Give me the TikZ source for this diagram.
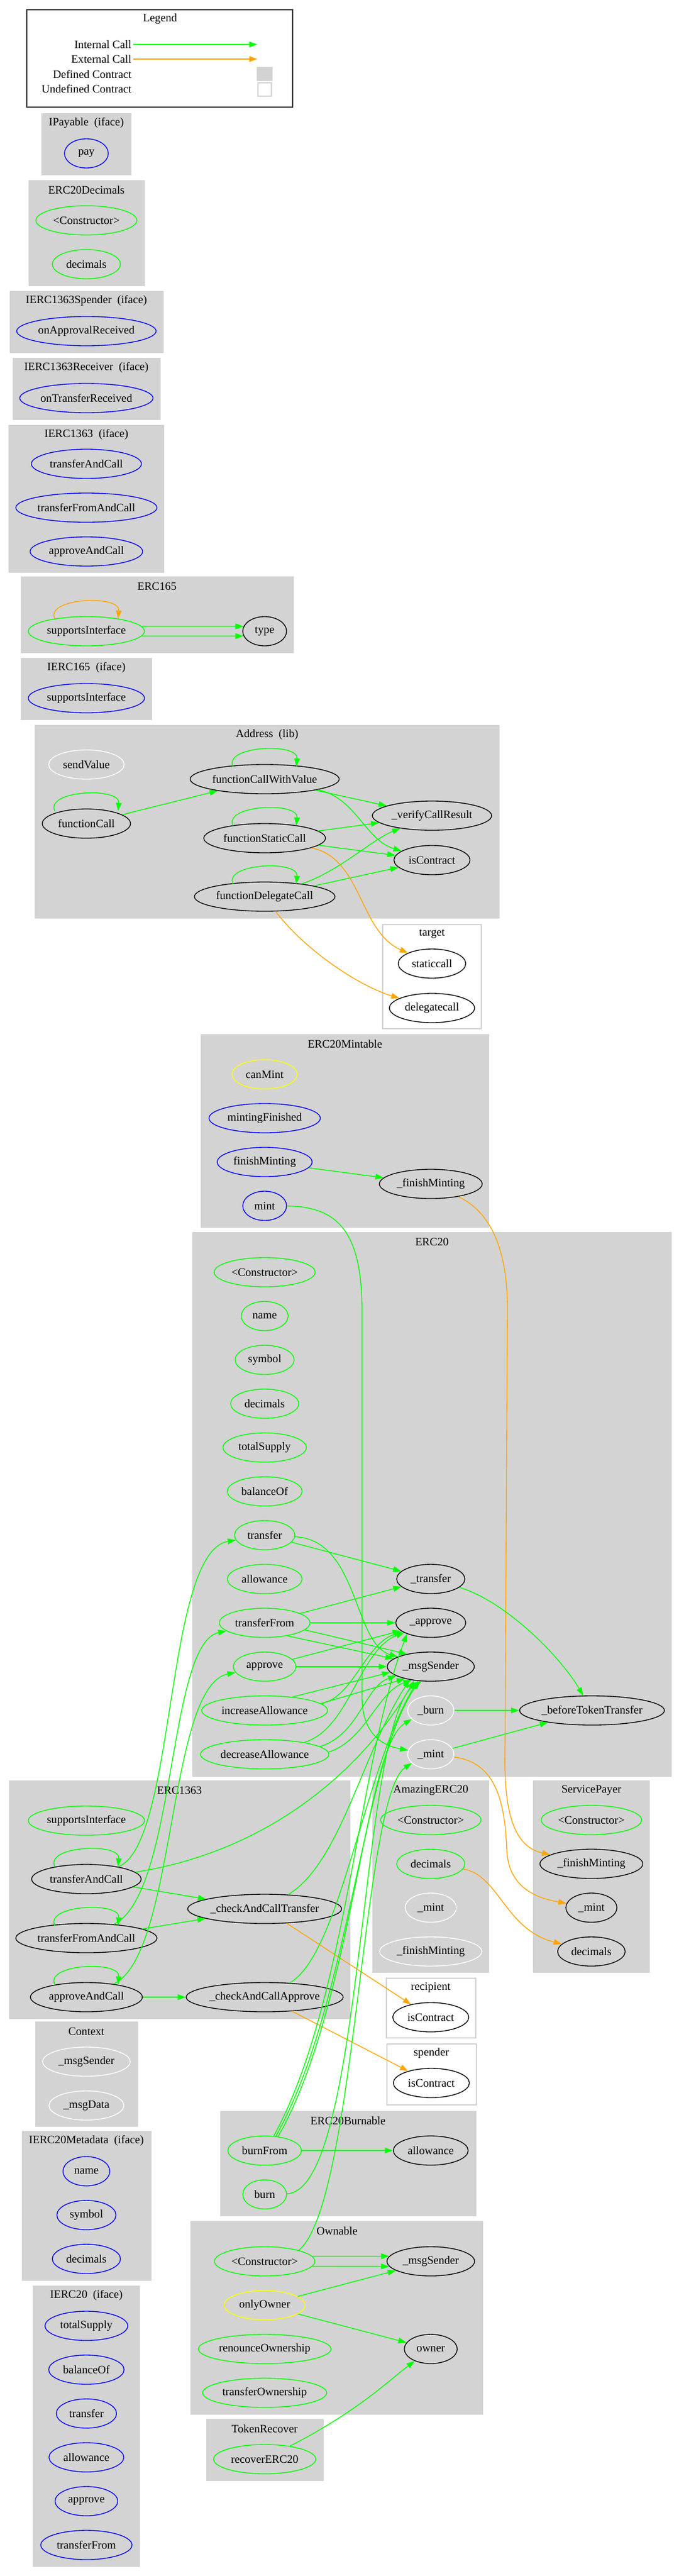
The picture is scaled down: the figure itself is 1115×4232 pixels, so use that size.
\documentclass[tikz,border=0pt]{standalone}
\usepackage{fontspec}
\setmainfont{Liberation Serif}
\usetikzlibrary{shapes.geometric, arrows.meta, calc}

\definecolor{fngreen}{HTML}{00FF00}
\definecolor{fnblue}{HTML}{0000FF}
\definecolor{fnyellow}{HTML}{FFFF00}
\definecolor{extorange}{HTML}{FFA500}
\definecolor{clustergray}{HTML}{D3D3D3}

% loop arrow over the top of a node
\newcommand{\selfcall}[2][call]{%
  \draw[#1] ($(#2.north)+(-52,4)$) .. controls ($(#2.north)+(-68,-30)$) and ($(#2.north)+(56,-36)$) .. ($(#2.north)+(52,4)$);}

\begin{document}
\begin{tikzpicture}[x=0.75pt, y=-0.75pt,
    font=\fontsize{14}{16.8}\selectfont,
    fn/.style={ellipse, draw=#1, line width=1pt, inner xsep=0pt, inner ysep=0pt,
      minimum height=36pt, minimum width=54pt},
    w/.style={minimum width=#1*0.75pt},
    cluster/.style={fill=clustergray, draw=clustergray, line width=1pt},
    outside/.style={fill=white, draw=clustergray, line width=1pt},
    call/.style={draw=fngreen, line width=1pt, -{Triangle[length=10pt,width=7pt]}},
    extcall/.style={draw=extorange, line width=1pt, -{Triangle[length=10pt,width=7pt]}}]

  \path[use as bounding box, fill=white] (0,0) rectangle (1115,4232);

  % Legend
  \draw[line width=1pt, draw=black!80] (44,16) rectangle (481,176);
  \node (legendTitle) at (263,31) {Legend};
  \node (lgInternal) [anchor=east, inner xsep=2pt] at (219,73) {Internal Call};
  \node (lgExternal) [anchor=east, inner xsep=2pt] at (219,97) {External Call};
  \node (lgDefined) [anchor=east, inner xsep=2pt] at (219,122) {Defined Contract};
  \node (lgUndefined) [anchor=east, inner xsep=2pt] at (219,146) {Undefined Contract};
  \coordinate (lgInternalEnd) at (423,73);
  \coordinate (lgExternalEnd) at (423,97);
  \node (lgGray) [fill=clustergray, inner sep=0pt, minimum width=26*0.75pt, minimum height=23*0.75pt] at (435,121.5) {};
  \node (lgWhite) [draw=clustergray, line width=1pt, inner sep=0pt, minimum width=22*0.75pt, minimum height=22*0.75pt] at (435,147) {};

  % IPayable
  \draw[cluster] (69,187) rectangle (215,287);
  \node (ipayTitle) at (142,202) {IPayable~~(iface)};
  \node (ipayPay) [fn=fnblue, w=72] at (142,252) {pay};

  % ERC20Decimals
  \draw[cluster] (48,297) rectangle (237,469);
  \node (decTitle) at (142,312) {ERC20Decimals};
  \node (decCtor) [fn=fngreen, w=166] at (142,362) {<Constructor>};
  \node (decDecimals) [fn=fngreen, w=112] at (142,434) {decimals};

  % IERC1363Spender
  \draw[cluster] (17,479) rectangle (268,579);
  \node (ispTitle) at (142,494) {IERC1363Spender~~(iface)};
  \node (ispApproval) [fn=fnblue, w=229] at (142,544) {onApprovalReceived};

  % IERC1363Receiver
  \draw[cluster] (22,589) rectangle (263,689);
  \node (ircTitle) at (142,604) {IERC1363Receiver~~(iface)};
  \node (ircTransfer) [fn=fnblue, w=219] at (142,654) {onTransferReceived};

  % IERC1363
  \draw[cluster] (15,699) rectangle (269,940);
  \node (i1363Title) at (142,714) {IERC1363~~(iface)};
  \node (i1363Transfer) [fn=fnblue, w=181] at (142,762) {transferAndCall};
  \node (i1363TransferFrom) [fn=fnblue, w=232] at (142,834) {transferFromAndCall};
  \node (i1363Approve) [fn=fnblue, w=185] at (142,906) {approveAndCall};

  % ERC165
  \draw[cluster] (35,948) rectangle (482,1072);
  \node (e165Title) at (258,963) {ERC165};
  \node (e165Supports) [fn=fngreen, w=191] at (142,1037) {supportsInterface};
  \node (e165Type) [fn=black, w=72] at (435,1037) {type};

  % IERC165
  \draw[cluster] (35,1082) rectangle (249,1182);
  \node (i165Title) at (142,1097) {IERC165~~(iface)};
  \node (i165Supports) [fn=fnblue, w=191] at (142,1147) {supportsInterface};

  % Address
  \draw[cluster] (58,1192) rectangle (820,1508);
  \node (addrTitle) at (439,1207) {Address~~(lib)};
  \node (addrSendValue) [fn=white, w=124] at (142,1256) {sendValue};
  \node (addrCall) [fn=black, w=145] at (142,1353) {functionCall};
  \node (addrCallValue) [fn=black, w=245] at (435,1280) {functionCallWithValue};
  \node (addrStatic) [fn=black, w=200] at (435,1377) {functionStaticCall};
  \node (addrDelegate) [fn=black, w=231] at (435,1473) {functionDelegateCall};
  \node (addrVerify) [fn=black, w=196] at (710,1340) {\_verifyCallResult};
  \node (addrIsContract) [fn=black, w=125] at (710,1413) {isContract};

  % target
  \draw[outside] (629,1519) rectangle (791,1690);
  \node (targetTitle) at (710,1534) {target};
  \node (targetStatic) [fn=black, w=111] at (710,1583) {staticcall};
  \node (targetDelegate) [fn=black, w=140] at (710,1656) {delegatecall};

  % ERC20Mintable
  \draw[cluster] (331,1700) rectangle (803,2016);
  \node (mintTitle) at (567,1715) {ERC20Mintable};
  \node (mintCanMint) [fn=fnyellow, w=107] at (435,1765) {canMint};
  \node (mintFinished) [fn=fnblue, w=183] at (435,1837) {mintingFinished};
  \node (mintFinish) [fn=fnblue, w=156] at (435,1909) {finishMinting};
  \node (mintMint) [fn=fnblue, w=72] at (435,1981) {mint};
  \node (mintFinishInt) [fn=black, w=169] at (708,1945) {\_finishMinting};

  % ERC20
  \draw[cluster] (317,2025) rectangle (1103,2918);
  \node (ercTitle) at (710,2040) {ERC20};
  \node (ercCtor) [fn=fngreen, w=166] at (435,2090) {<Constructor>};
  \node (ercName) [fn=fngreen, w=77] at (435,2162) {name};
  \node (ercSymbol) [fn=fngreen, w=97] at (435,2234) {symbol};
  \node (ercDecimals) [fn=fngreen, w=112] at (435,2306) {decimals};
  \node (ercTotalSupply) [fn=fngreen, w=137] at (435,2378) {totalSupply};
  \node (ercBalanceOf) [fn=fngreen, w=123] at (435,2450) {balanceOf};
  \node (ercTransfer) [fn=fngreen, w=99] at (435,2522) {transfer};
  \node (ercAllowance) [fn=fngreen, w=123] at (435,2594) {allowance};
  \node (ercTransferFrom) [fn=fngreen, w=149] at (435,2666) {transferFrom};
  \node (ercApprove) [fn=fngreen, w=103] at (435,2738) {approve};
  \node (ercIncrease) [fn=fngreen, w=207] at (435,2810) {increaseAllowance};
  \node (ercDecrease) [fn=fngreen, w=211] at (435,2882) {decreaseAllowance};
  \node (ercTransferInt) [fn=black, w=112] at (708,2594) {\_transfer};
  \node (ercApproveInt) [fn=black, w=115] at (708,2666) {\_approve};
  \node (ercMsgSender) [fn=black, w=143] at (708,2738) {\_msgSender};
  \node (ercBurn) [fn=white, w=76] at (708,2810) {\_burn};
  \node (ercMint) [fn=white, w=76] at (708,2882) {\_mint};
  \node (ercBefore) [fn=black, w=238] at (973,2810) {\_beforeTokenTransfer};

  % ERC1363
  \draw[cluster] (16,2926) rectangle (575,3316);
  \node (e1363Title) at (295,2941) {ERC1363};
  \node (e1363Supports) [fn=fngreen, w=191] at (142,2991) {supportsInterface};
  \node (e1363Transfer) [fn=black, w=180] at (142,3087) {transferAndCall};
  \node (e1363TransferFrom) [fn=black, w=232] at (142,3184) {transferFromAndCall};
  \node (e1363Approve) [fn=black, w=184] at (142,3281) {approveAndCall};
  \node (e1363CheckTransfer) [fn=black, w=253] at (435,3136) {\_checkAndCallTransfer};
  \node (e1363CheckApprove) [fn=black, w=258] at (435,3281) {\_checkAndCallApprove};

  % AmazingERC20
  \draw[cluster] (613,2926) rectangle (803,3240);
  \node (amzTitle) at (708,2941) {AmazingERC20};
  \node (amzCtor) [fn=fngreen, w=165] at (708,2990) {<Constructor>};
  \node (amzDecimals) [fn=fngreen, w=112] at (708,3062) {decimals};
  \node (amzMint) [fn=white, w=84] at (708,3134) {\_mint};
  \node (amzFinish) [fn=white, w=168] at (708,3206) {\_finishMinting};

  % ServicePayer
  \draw[cluster] (877,2926) rectangle (1067,3240);
  \node (spTitle) at (972,2941) {ServicePayer};
  \node (spCtor) [fn=fngreen, w=165] at (972,2990) {<Constructor>};
  \node (spFinish) [fn=black, w=169] at (972,3062) {\_finishMinting};
  \node (spMint) [fn=black, w=84] at (972,3134) {\_mint};
  \node (spDecimals) [fn=black, w=111] at (972,3206) {decimals};

  % recipient
  \draw[outside] (635,3250) rectangle (782,3348);
  \node (recTitle) at (708,3265) {recipient};
  \node (recIsContract) [fn=black, w=125] at (708,3314) {isContract};

  % spender
  \draw[outside] (636,3358) rectangle (783,3458);
  \node (spdTitle) at (709,3373) {spender};
  \node (spdIsContract) [fn=black, w=125] at (709,3422) {isContract};

  % Context
  \draw[cluster] (59,3322) rectangle (226,3493);
  \node (ctxTitle) at (142,3337) {Context};
  \node (ctxMsgSender) [fn=white, w=144] at (142,3387) {\_msgSender};
  \node (ctxMsgData) [fn=white, w=123] at (142,3459) {\_msgData};

  % ERC20Burnable
  \draw[cluster] (363,3469) rectangle (782,3640);
  \node (burnTitle) at (572,3484) {ERC20Burnable};
  \node (burnBurnFrom) [fn=fngreen, w=121] at (435,3533) {burnFrom};
  \node (burnAllowance) [fn=black, w=123] at (708,3533) {allowance};
  \node (burnBurn) [fn=fngreen, w=72] at (435,3605) {burn};

  % IERC20Metadata
  \draw[cluster] (37,3502) rectangle (248,3746);
  \node (metaTitle) at (142,3517) {IERC20Metadata~~(iface)};
  \node (metaName) [fn=fnblue, w=77] at (142,3567) {name};
  \node (metaSymbol) [fn=fnblue, w=97] at (142,3639) {symbol};
  \node (metaDecimals) [fn=fnblue, w=112] at (142,3711) {decimals};

  % Ownable
  \draw[cluster] (314,3650) rectangle (793,3966);
  \node (ownTitle) at (554,3665) {Ownable};
  \node (ownCtor) [fn=fngreen, w=165] at (435,3715) {<Constructor>};
  \node (ownOnlyOwner) [fn=fnyellow, w=133] at (435,3787) {onlyOwner};
  \node (ownRenounce) [fn=fngreen, w=218] at (435,3859) {renounceOwnership};
  \node (ownTransfer) [fn=fngreen, w=204] at (435,3931) {transferOwnership};
  \node (ownMsgSender) [fn=black, w=144] at (708,3715) {\_msgSender};
  \node (ownOwner) [fn=black, w=87] at (708,3859) {owner};

  % IERC20
  \draw[cluster] (55,3756) rectangle (229,4216);
  \node (ierc20Title) at (142,3771) {IERC20~~(iface)};
  \node (ierc20TotalSupply) [fn=fnblue, w=136] at (142,3821) {totalSupply};
  \node (ierc20BalanceOf) [fn=fnblue, w=124] at (142,3893) {balanceOf};
  \node (ierc20Transfer) [fn=fnblue, w=99] at (142,3965) {transfer};
  \node (ierc20Allowance) [fn=fnblue, w=123] at (142,4037) {allowance};
  \node (ierc20Approve) [fn=fnblue, w=103] at (142,4109) {approve};
  \node (ierc20TransferFrom) [fn=fnblue, w=150] at (142,4181) {transferFrom};

  % TokenRecover
  \draw[cluster] (340,3975) rectangle (531,4075);
  \node (trTitle) at (435,3990) {TokenRecover};
  \node (trRecover) [fn=fngreen, w=168] at (435,4040) {recoverERC20};

  % Arrows
  \draw[call] (lgInternal.east) -- (lgInternalEnd);
  \draw[extcall] (lgExternal.east) -- (lgExternalEnd);

  \selfcall[extcall]{e165Supports}
  \draw[call] (e165Supports.5) -- (e165Type.167);
  \draw[call] (e165Supports.-5) -- (e165Type.193);

  \selfcall{addrCall}
  \selfcall{addrCallValue}
  \selfcall{addrStatic}
  \selfcall{addrDelegate}
  \draw[call] (addrCall) -- (addrCallValue);
  \draw[call] (addrCallValue) -- (addrVerify);
  \draw[call] (addrCallValue) .. controls (585,1310) and (600,1380) .. (addrIsContract);
  \draw[call] (addrStatic) -- (addrVerify);
  \draw[call] (addrStatic) -- (addrIsContract);
  \draw[call] (addrDelegate) .. controls (560,1430) and (610,1380) .. (addrVerify);
  \draw[call] (addrDelegate) -- (addrIsContract);
  \draw[extcall] (addrStatic) .. controls (595,1410) and (590,1530) .. (targetStatic);
  \draw[extcall] (addrDelegate) .. controls (500,1560) and (590,1620) .. (targetDelegate);

  \draw[call] (mintFinish) -- (mintFinishInt);
  \draw[call] (mintMint) .. controls (560,1982) and (594,2030) .. (595,2150) -- (595,2790) .. controls (596,2850) and (630,2868) .. (ercMint);
  \draw[extcall] (mintFinishInt) .. controls (805,1990) and (834,2050) .. (834,2150) -- (830,2880) .. controls (828,2990) and (850,3035) .. (spFinish);

  \draw[call] (ercTransfer) -- (ercTransferInt);
  \draw[call] (ercTransfer) .. controls (590,2530) and (580,2700) .. (ercMsgSender);
  \draw[call] (ercTransferFrom) -- (ercTransferInt);
  \draw[call] (ercTransferFrom) -- (ercApproveInt);
  \draw[call] (ercTransferFrom.-10) -- (ercMsgSender.152);
  \draw[call] (ercTransferFrom.-30) -- (ercMsgSender.168);
  \draw[call] (ercApprove) -- (ercApproveInt);
  \draw[call] (ercApprove) -- (ercMsgSender);
  \draw[call] (ercIncrease.7) .. controls (580,2790) and (600,2700) .. (ercApproveInt);
  \draw[call] (ercIncrease.26) -- (ercMsgSender.188);
  \draw[call] (ercIncrease.7) -- (ercMsgSender.205);
  \draw[call] (ercDecrease) .. controls (575,2840) and (590,2710) .. (ercApproveInt);
  \draw[call] (ercDecrease.8) .. controls (590,2850) and (600,2770) .. (ercMsgSender.195);
  \draw[call] (ercDecrease.2) .. controls (600,2860) and (620,2780) .. (ercMsgSender.215);
  \draw[call] (ercTransferInt) .. controls (830,2630) and (920,2720) .. (ercBefore);
  \draw[call] (ercBurn) -- (ercBefore);
  \draw[call] (ercMint) -- (ercBefore);
  \draw[extcall] (ercMint) .. controls (815,2895) and (830,2960) .. (833,3040) .. controls (836,3100) and (880,3118) .. (spMint);

  \selfcall{e1363Transfer}
  \selfcall{e1363TransferFrom}
  \selfcall{e1363Approve}
  \draw[call] (e1363Transfer) .. controls (290,3030) and (270,2550) .. (ercTransfer);
  \draw[call] (e1363TransferFrom) .. controls (290,3110) and (275,2700) .. (ercTransferFrom);
  \draw[call] (e1363Approve) .. controls (290,3210) and (275,2770) .. (ercApprove);
  \draw[call] (e1363Transfer) -- (e1363CheckTransfer);
  \draw[call] (e1363TransferFrom) -- (e1363CheckTransfer);
  \draw[call] (e1363Approve) -- (e1363CheckApprove);
  \draw[call] (e1363Transfer.8) .. controls (450,3040) and (600,2900) .. (ercMsgSender.220);
  \draw[call] (e1363CheckTransfer) .. controls (560,3060) and (595,2880) .. (ercMsgSender.212);
  \draw[call] (e1363CheckApprove) .. controls (560,3210) and (600,2900) .. (ercMsgSender.228);
  \draw[extcall] (e1363CheckTransfer) -- (recIsContract);
  \draw[extcall] (e1363CheckApprove) -- (spdIsContract);

  \draw[extcall] (amzDecimals) .. controls (820,3080) and (830,3170) .. (spDecimals);

  \draw[call] (burnBurnFrom) -- (burnAllowance);
  \draw[call] (burnBurnFrom.58) .. controls (570,3290) and (588,2900) .. (ercApproveInt.205);
  \draw[call] (burnBurnFrom.52) .. controls (576,3290) and (594,2900) .. (ercMsgSender.232);
  \draw[call] (burnBurnFrom.46) .. controls (582,3290) and (598,2870) .. (ercBurn.205);
  \draw[call] (burnBurn) .. controls (600,3600) and (590,2820) .. (ercMsgSender.238);

  \draw[call] (ownCtor.6) -- (ownMsgSender.173);
  \draw[call] (ownCtor.-6) -- (ownMsgSender.187);
  \draw[call] (ownCtor.18) .. controls (585,3620) and (595,2950) .. (ercMint.205);
  \draw[call] (ownOnlyOwner) -- (ownMsgSender);
  \draw[call] (ownOnlyOwner) -- (ownOwner);
  \draw[call] (trRecover) .. controls (590,3960) and (640,3910) .. (ownOwner);
\end{tikzpicture}
\end{document}
